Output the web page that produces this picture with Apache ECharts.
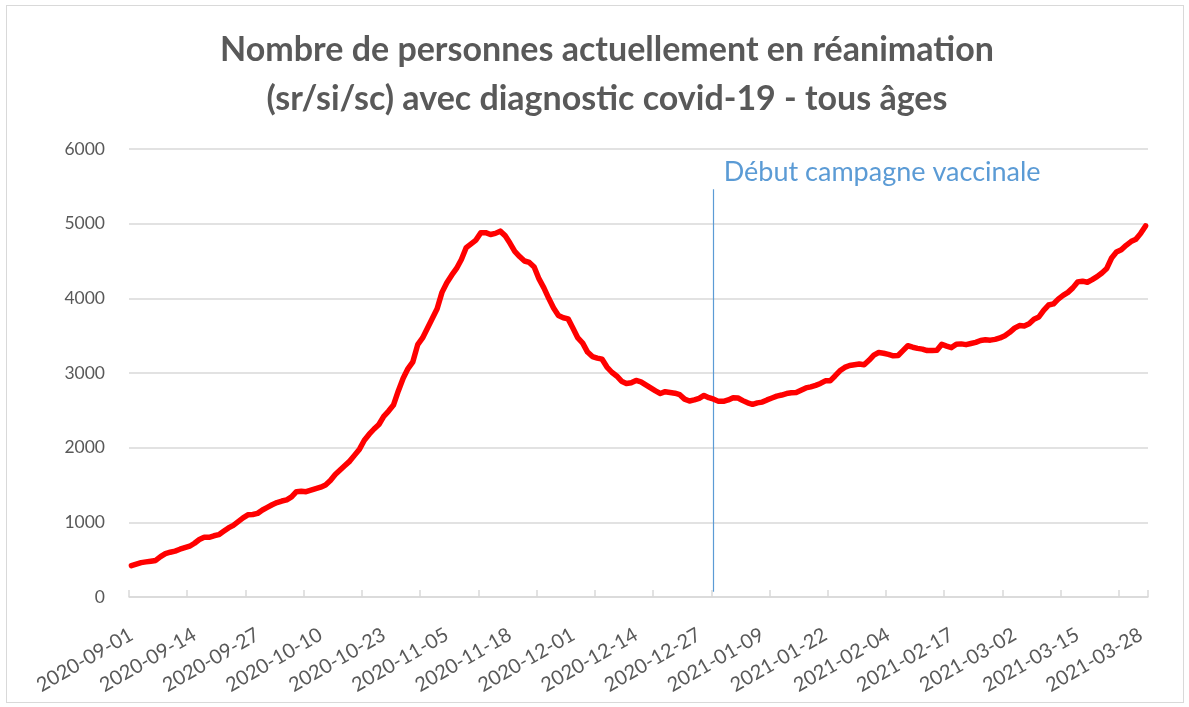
<!DOCTYPE html>
<html>
<head>
<meta charset="utf-8">
<script src="https://cdn.jsdelivr.net/npm/echarts@6/dist/echarts.min.js"></script>
<style>
html,body{margin:0;padding:0;background:#fff;}
#chart{position:absolute;left:0;top:0;width:1189px;height:707px;}
#frame{position:absolute;left:6px;top:5px;width:1176px;height:696px;border:1px solid #d9d9d9;pointer-events:none;}
</style>
</head>
<body>
<div id="chart"></div>
<div id="frame"></div>
<script>
const titleLines = ["Nombre de personnes actuellement en réanimation", "(sr/si/sc) avec diagnostic covid-19 - tous âges"];
const annotationText = "Début campagne vaccinale";
const annotationDate = "2020-12-30";
const startDate = "2020-09-01";
const yTicks = [0, 1000, 2000, 3000, 4000, 5000, 6000];

const values = [
  420, 440, 460, 470, 480, 490, 540, 580, 600, 615,
  640, 660, 680, 720, 770, 800, 800, 820, 835, 880,
  925, 960, 1010, 1060, 1100, 1105, 1120, 1165, 1200, 1235,
  1265, 1285, 1300, 1340, 1410, 1415, 1410, 1430, 1450, 1470,
  1500, 1560, 1640, 1700, 1760, 1820, 1900, 1980, 2100, 2180,
  2250, 2310, 2420, 2490, 2570, 2760, 2930, 3060, 3150, 3380,
  3470, 3600, 3730, 3860, 4080, 4210, 4310, 4400, 4520, 4680,
  4730, 4780, 4880, 4880, 4855, 4870, 4900, 4840, 4740, 4630,
  4560, 4500, 4480, 4420, 4260, 4140, 4000, 3870, 3770, 3740,
  3725, 3600, 3470, 3400, 3280, 3220, 3200, 3185, 3080, 3010,
  2960, 2890, 2860, 2870, 2900, 2880, 2840, 2800, 2760, 2725,
  2750, 2740, 2730, 2710, 2650, 2625, 2640, 2660, 2700, 2670,
  2650, 2620, 2620, 2640, 2670, 2665, 2630, 2600, 2580, 2600,
  2610, 2640, 2665, 2690, 2705, 2725, 2735, 2740, 2770, 2800,
  2815, 2835, 2860, 2895, 2895, 2960, 3030, 3075, 3100, 3110,
  3120, 3110, 3170, 3240, 3275, 3265, 3250, 3230, 3235, 3300,
  3365, 3345, 3330, 3320, 3300, 3300, 3305, 3385, 3360, 3340,
  3385, 3390, 3380, 3395, 3410, 3435, 3445, 3440, 3450, 3470,
  3500, 3545, 3600, 3635, 3630, 3660, 3720, 3750, 3840, 3910,
  3925, 3990, 4040, 4080, 4140, 4220, 4230, 4215, 4250, 4290,
  4340, 4400, 4540, 4620, 4650, 4710, 4760, 4790, 4870, 4970
];

// category labels: one per day from startDate
const dates = [];
(function(){
  const d0 = new Date(startDate + "T00:00:00Z");
  for (let i = 0; i < values.length; i++) {
    const d = new Date(d0.getTime() + i * 86400000);
    dates.push(d.toISOString().slice(0, 10));
  }
})();

const FONT = "Lato, 'Open Sans', sans-serif";
const chart = echarts.init(document.getElementById('chart'), null, {renderer: 'canvas'});
chart.setOption({
  backgroundColor: '#ffffff',
  animation: false,
  title: {
    text: titleLines.join('\n'),
    left: 602,
    top: 21,
    textAlign: 'center',
    textStyle: {
      fontFamily: FONT,
      fontSize: 34,
      fontWeight: 'bold',
      color: '#595959',
      lineHeight: 49
    }
  },
  grid: {left: 129, right: 41, top: 149, bottom: 110, containLabel: false},
  xAxis: {
    type: 'category',
    data: dates,
    boundaryGap: true,
    axisLine: {show: true, lineStyle: {color: '#d9d9d9', width: 1.5}},
    axisTick: {show: true, inside: true, interval: 11, length: 7, lineStyle: {color: '#d9d9d9', width: 1.5}},
    axisLabel: {
      interval: 12,
      rotate: 30,
      margin: 36,
      color: '#595959',
      fontFamily: FONT,
      fontSize: 20
    },
    splitLine: {show: false}
  },
  yAxis: {
    type: 'value',
    min: yTicks[0],
    max: yTicks[yTicks.length - 1],
    interval: 1000,
    axisLine: {show: false},
    axisTick: {show: false},
    axisLabel: {color: '#595959', fontFamily: FONT, fontSize: 17.5, margin: 24, formatter: function (v) { return String(v); }},
    splitLine: {show: true, lineStyle: {color: '#d9d9d9', width: 1.5}}
  },
  series: [{
    type: 'line',
    data: values,
    showSymbol: false,
    symbol: 'none',
    smooth: false,
    lineStyle: {color: '#ff0000', width: 5.5, cap: 'round', join: 'round'},
    z: 3,
    markLine: {
      silent: true,
      symbol: ['none', 'none'],
      lineStyle: {color: '#5b9bd5', width: 1.2, type: 'solid'},
      label: {show: false},
      data: [[{coord: [annotationDate, 5460]}, {coord: [annotationDate, 70]}]],
      z: 2
    },
    markPoint: {
      silent: true,
      symbol: 'circle',
      symbolSize: 0,
      data: [{coord: [annotationDate, 5690], value: annotationText}],
      label: {
        show: true,
        position: 'right',
        distance: 10,
        formatter: annotationText,
        color: '#5b9bd5',
        fontFamily: FONT,
        fontSize: 27
      }
    }
  }]
});
</script>
</body>
</html>
